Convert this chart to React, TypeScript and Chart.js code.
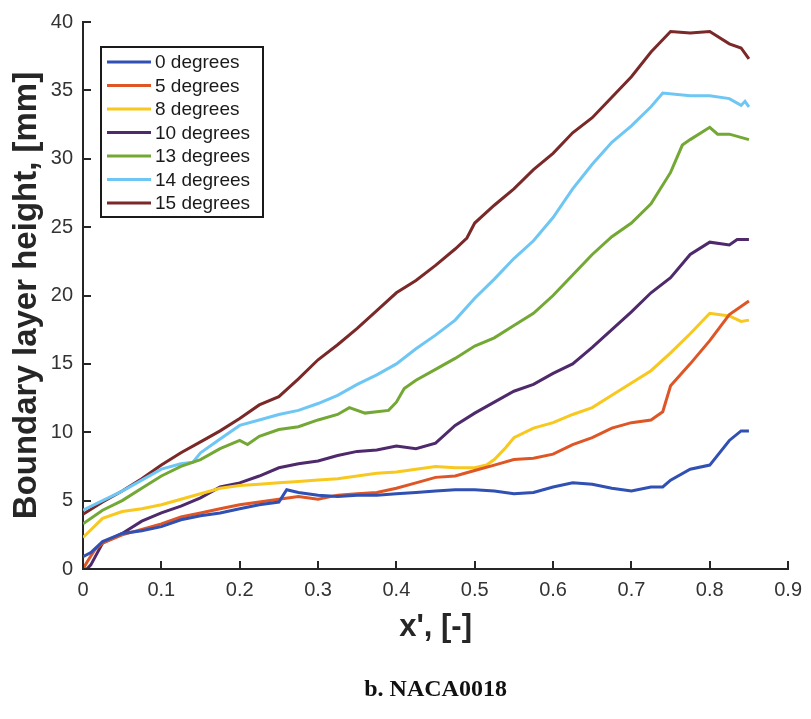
import React, { useEffect, useRef } from 'react';
import { Chart, registerables } from 'chart.js';

Chart.register(...registerables);

// ---------- data ----------
const X_TICKS = [0, 0.1, 0.2, 0.3, 0.4, 0.5, 0.6, 0.7, 0.8, 0.9];
const X_TICK_LABELS = ['0', '0.1', '0.2', '0.3', '0.4', '0.5', '0.6', '0.7', '0.8', '0.9'];
const Y_TICKS = [0, 5, 10, 15, 20, 25, 30, 35, 40];
const Y_TICK_LABELS = ['0', '5', '10', '15', '20', '25', '30', '35', '40'];

const SERIES_LABELS = ['0 degrees', '5 degrees', '8 degrees', '10 degrees', '13 degrees', '14 degrees', '15 degrees'];
const SERIES_COLORS = ['#3050b4', '#df5626', '#f8c81e', '#4e2a6c', '#74a834', '#6ec6f4', '#7a2828'];

const X_0DEG = [0, 0.01, 0.025, 0.05, 0.075, 0.1, 0.125, 0.15, 0.175, 0.2, 0.225, 0.25, 0.26, 0.275, 0.3, 0.325, 0.35, 0.375, 0.4, 0.425, 0.45, 0.475, 0.5, 0.525, 0.55, 0.575, 0.6, 0.625, 0.65, 0.675, 0.7, 0.725, 0.74, 0.75, 0.775, 0.8, 0.825, 0.84, 0.85];
const Y_0DEG = [0.9, 1.2, 2.0, 2.6, 2.8, 3.1, 3.6, 3.9, 4.1, 4.4, 4.7, 4.9, 5.8, 5.6, 5.4, 5.3, 5.4, 5.4, 5.5, 5.6, 5.7, 5.8, 5.8, 5.7, 5.5, 5.6, 6.0, 6.3, 6.2, 5.9, 5.7, 6.0, 6.0, 6.5, 7.3, 7.6, 9.4, 10.1, 10.1];

const X_5DEG = [0, 0.005, 0.015, 0.025, 0.05, 0.075, 0.1, 0.125, 0.15, 0.175, 0.2, 0.225, 0.25, 0.275, 0.3, 0.325, 0.35, 0.375, 0.4, 0.425, 0.45, 0.475, 0.5, 0.525, 0.55, 0.575, 0.6, 0.625, 0.65, 0.675, 0.7, 0.725, 0.74, 0.75, 0.775, 0.8, 0.825, 0.85];
const Y_5DEG = [0.0, 0.5, 1.4, 1.9, 2.5, 2.9, 3.3, 3.8, 4.1, 4.4, 4.7, 4.9, 5.1, 5.3, 5.1, 5.4, 5.5, 5.6, 5.9, 6.3, 6.7, 6.8, 7.2, 7.6, 8.0, 8.1, 8.4, 9.1, 9.6, 10.3, 10.7, 10.9, 11.5, 13.4, 15.0, 16.7, 18.6, 19.6];

const X_8DEG = [0, 0.025, 0.05, 0.075, 0.1, 0.125, 0.15, 0.175, 0.2, 0.225, 0.25, 0.275, 0.3, 0.325, 0.35, 0.375, 0.4, 0.425, 0.45, 0.475, 0.5, 0.515, 0.525, 0.54, 0.55, 0.575, 0.6, 0.625, 0.65, 0.675, 0.7, 0.725, 0.75, 0.775, 0.8, 0.825, 0.84, 0.85];
const Y_8DEG = [2.3, 3.7, 4.2, 4.4, 4.7, 5.1, 5.5, 5.9, 6.1, 6.2, 6.3, 6.4, 6.5, 6.6, 6.8, 7.0, 7.1, 7.3, 7.5, 7.4, 7.4, 7.6, 8.0, 8.9, 9.6, 10.3, 10.7, 11.3, 11.8, 12.7, 13.6, 14.5, 15.8, 17.2, 18.7, 18.5, 18.1, 18.2];

const X_10DEG = [0, 0.005, 0.01, 0.025, 0.05, 0.075, 0.1, 0.125, 0.15, 0.175, 0.2, 0.225, 0.25, 0.275, 0.3, 0.325, 0.35, 0.375, 0.4, 0.425, 0.45, 0.475, 0.5, 0.525, 0.55, 0.575, 0.6, 0.625, 0.65, 0.675, 0.7, 0.725, 0.75, 0.775, 0.8, 0.825, 0.835, 0.85];
const Y_10DEG = [0.0, 0.0, 0.3, 1.9, 2.6, 3.5, 4.1, 4.6, 5.2, 6.0, 6.3, 6.8, 7.4, 7.7, 7.9, 8.3, 8.6, 8.7, 9.0, 8.8, 9.2, 10.5, 11.4, 12.2, 13.0, 13.5, 14.3, 15.0, 16.2, 17.5, 18.8, 20.2, 21.3, 23.0, 23.9, 23.7, 24.1, 24.1];

const X_13DEG = [0, 0.025, 0.05, 0.075, 0.1, 0.125, 0.15, 0.175, 0.2, 0.21, 0.225, 0.25, 0.275, 0.3, 0.325, 0.34, 0.36, 0.375, 0.39, 0.4, 0.41, 0.425, 0.45, 0.475, 0.5, 0.525, 0.55, 0.575, 0.6, 0.625, 0.65, 0.675, 0.7, 0.725, 0.75, 0.765, 0.775, 0.8, 0.81, 0.825, 0.85];
const Y_13DEG = [3.3, 4.3, 5.0, 5.9, 6.8, 7.5, 8.0, 8.8, 9.4, 9.1, 9.7, 10.2, 10.4, 10.9, 11.3, 11.8, 11.4, 11.5, 11.6, 12.2, 13.2, 13.8, 14.6, 15.4, 16.3, 16.9, 17.8, 18.7, 20.0, 21.5, 23.0, 24.3, 25.3, 26.7, 29.0, 31.0, 31.4, 32.3, 31.8, 31.8, 31.4];

const X_14DEG = [0, 0.025, 0.05, 0.075, 0.1, 0.125, 0.14, 0.15, 0.175, 0.2, 0.225, 0.25, 0.275, 0.3, 0.325, 0.35, 0.375, 0.4, 0.425, 0.45, 0.475, 0.5, 0.525, 0.55, 0.575, 0.6, 0.625, 0.65, 0.675, 0.7, 0.725, 0.74, 0.775, 0.8, 0.825, 0.84, 0.845, 0.85];
const Y_14DEG = [4.3, 5.0, 5.7, 6.5, 7.3, 7.7, 7.8, 8.5, 9.5, 10.5, 10.9, 11.3, 11.6, 12.1, 12.7, 13.5, 14.2, 15.0, 16.1, 17.1, 18.2, 19.8, 21.2, 22.7, 24.0, 25.7, 27.8, 29.6, 31.2, 32.4, 33.8, 34.8, 34.6, 34.6, 34.4, 33.9, 34.2, 33.8];

const X_15DEG = [0, 0.025, 0.05, 0.075, 0.1, 0.125, 0.15, 0.175, 0.2, 0.225, 0.25, 0.275, 0.3, 0.325, 0.35, 0.375, 0.4, 0.425, 0.45, 0.475, 0.49, 0.5, 0.525, 0.55, 0.575, 0.6, 0.625, 0.65, 0.675, 0.7, 0.725, 0.75, 0.775, 0.8, 0.825, 0.84, 0.85];
const Y_15DEG = [4.0, 4.9, 5.7, 6.6, 7.6, 8.5, 9.3, 10.1, 11.0, 12.0, 12.6, 13.9, 15.3, 16.4, 17.6, 18.9, 20.2, 21.1, 22.2, 23.4, 24.2, 25.3, 26.6, 27.8, 29.2, 30.4, 31.9, 33.0, 34.5, 36.0, 37.8, 39.3, 39.2, 39.3, 38.4, 38.1, 37.3];

const SERIES_X = [X_0DEG, X_5DEG, X_8DEG, X_10DEG, X_13DEG, X_14DEG, X_15DEG];
const SERIES_Y = [Y_0DEG, Y_5DEG, Y_8DEG, Y_10DEG, Y_13DEG, Y_14DEG, Y_15DEG];

// ---------- style ----------
const SANS = '"Liberation Sans", Arial, Helvetica, sans-serif';
const AXIS_COLOR = '#262626';

const decorPlugin = {
  id: 'decor',
  afterDraw(chart: any) {
    const { ctx, chartArea, scales } = chart;
    const xs = scales.x;
    const ys = scales.y;
    ctx.save();
    // inward tick marks
    ctx.strokeStyle = AXIS_COLOR;
    ctx.lineWidth = 2;
    ctx.beginPath();
    Y_TICKS.forEach((v) => {
      const p = Math.round(ys.getPixelForValue(v));
      ctx.moveTo(chartArea.left, p);
      ctx.lineTo(chartArea.left + 8, p);
    });
    X_TICKS.forEach((v) => {
      const p = Math.round(xs.getPixelForValue(v));
      ctx.moveTo(p, chartArea.bottom);
      ctx.lineTo(p, chartArea.bottom - 8);
    });
    ctx.stroke();

    // legend box
    const lx = chartArea.left + 18;
    const ly = chartArea.top + 25;
    const lw = 162;
    const lh = 170;
    ctx.fillStyle = '#ffffff';
    ctx.fillRect(lx, ly, lw, lh);
    ctx.strokeStyle = '#1a1a1a';
    ctx.lineWidth = 2;
    ctx.strokeRect(lx, ly, lw, lh);
    ctx.font = '19px ' + SANS;
    ctx.textBaseline = 'middle';
    ctx.textAlign = 'left';
    chart.data.datasets.forEach((ds: any, i: number) => {
      const y = ly + 15 + i * 23.5;
      ctx.strokeStyle = ds.borderColor;
      ctx.lineWidth = 3;
      ctx.beginPath();
      ctx.moveTo(lx + 6, y);
      ctx.lineTo(lx + 50, y);
      ctx.stroke();
      ctx.fillStyle = '#1a1a1a';
      ctx.fillText(ds.label, lx + 54, y + 1);
    });
    ctx.restore();
  },
};

export default function App() {
  const canvasRef = useRef<HTMLCanvasElement | null>(null);

  useEffect(() => {
    const canvas = canvasRef.current;
    if (!canvas) return;
    const datasets = SERIES_LABELS.map((label, i) => ({
      label,
      data: SERIES_X[i].map((x, j) => ({ x, y: SERIES_Y[i][j] })),
      borderColor: SERIES_COLORS[i],
      backgroundColor: SERIES_COLORS[i],
      borderWidth: 3,
      pointRadius: 0,
      tension: 0,
      fill: false,
    }));

    const chart = new Chart(canvas, {
      type: 'line',
      data: { datasets },
      plugins: [decorPlugin],
      options: {
        animation: false,
        responsive: false,
        maintainAspectRatio: false,
        layout: { padding: { top: 21, right: 18, left: 0, bottom: 0 } },
        plugins: {
          legend: { display: false },
          tooltip: { enabled: false },
          title: {
            display: true,
            position: 'bottom',
            fullSize: false,
            text: 'b. NACA0018',
            color: '#111111',
            font: { family: '"Liberation Serif", "Times New Roman", serif', size: 24, weight: 'bold', lineHeight: 1.2 },
            padding: { top: 0, bottom: 14.6 },
          },
        },
        scales: {
          x: {
            type: 'linear',
            min: 0,
            max: 0.9,
            afterFit: (s: any) => { s.height = 106.6; },
            afterBuildTicks: (s: any) => { s.ticks = X_TICKS.map((v) => ({ value: v })); },
            grid: { display: false, drawTicks: false },
            border: { display: true, color: AXIS_COLOR, width: 2 },
            ticks: {
              padding: 9,
              color: '#333333',
              font: { family: SANS, size: 20 },
              maxRotation: 0,
              autoSkip: false,
              callback: (_v: any, i: number) => X_TICK_LABELS[i],
            },
            title: {
              display: true,
              text: "x', [-]",
              color: '#262626',
              font: { family: SANS, size: 31, weight: 'bold', lineHeight: 1.2 },
              padding: { top: 0, bottom: 30 },
            },
          },
          y: {
            type: 'linear',
            min: 0,
            max: 40,
            afterFit: (s: any) => { s.width = 83; },
            afterBuildTicks: (s: any) => { s.ticks = Y_TICKS.map((v) => ({ value: v })); },
            grid: { display: false, drawTicks: false },
            border: { display: true, color: AXIS_COLOR, width: 2 },
            ticks: {
              padding: 10,
              color: '#333333',
              font: { family: SANS, size: 20 },
              autoSkip: false,
              callback: (_v: any, i: number) => Y_TICK_LABELS[i],
            },
            title: {
              display: true,
              text: 'Boundary layer height, [mm]',
              color: '#262626',
              font: { family: SANS, size: 33, weight: 'bold', lineHeight: 1.2 },
              padding: { top: 7, bottom: 0 },
            },
          },
        },
      },
    } as any);

    return () => chart.destroy();
  }, []);

  return (
    <div style={{ position: 'absolute', left: 0, top: 0, width: 811, height: 719, background: '#ffffff' }}>
      <canvas ref={canvasRef} width={811} height={719} style={{ display: 'block', width: 811, height: 719 }} />
    </div>
  );
}
